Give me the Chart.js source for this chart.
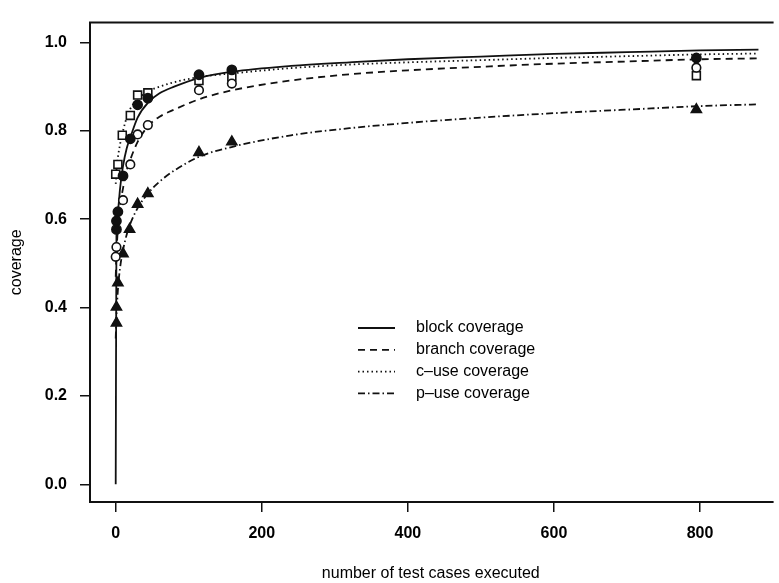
<!DOCTYPE html>
<html lang="en">
<head>
<meta charset="UTF-8">
<title>Coverage vs number of test cases</title>
<script src="https://cdn.jsdelivr.net/npm/chart.js"></script>
<style>
  html, body { margin: 0; padding: 0; background: #fff; }
</style>
</head>
<body>
<canvas id="chart" width="779" height="583"></canvas>
<script>
// observed coverage values (markers)
const blockX = [1, 1, 3, 10, 20, 30, 44, 114, 159, 795];
const blockY = [0.577, 0.596, 0.617, 0.698, 0.782, 0.859, 0.874, 0.927, 0.938, 0.965];
const branchX = [0, 1, 10, 20, 30, 44, 114, 159, 795];
const branchY = [0.515, 0.537, 0.643, 0.724, 0.792, 0.813, 0.892, 0.907, 0.943];
const cuseX = [0, 3, 9, 20, 30, 44, 114, 159, 795];
const cuseY = [0.702, 0.724, 0.79, 0.835, 0.881, 0.886, 0.914, 0.922, 0.925];
const puseX = [1, 1, 3, 10, 19, 30, 44, 114, 159, 795];
const puseY = [0.365, 0.401, 0.456, 0.522, 0.577, 0.634, 0.658, 0.751, 0.775, 0.848];

// fitted curves
const fitX = [0, 1, 3, 6, 10, 15, 20, 30, 45, 60, 80, 115, 160, 240, 320, 400, 500, 600, 700, 800, 880];
const blockFit = [0, 0.56, 0.62, 0.67, 0.72, 0.76, 0.785, 0.83, 0.865, 0.885, 0.9, 0.92, 0.934, 0.947, 0.955, 0.962, 0.968, 0.974, 0.978, 0.982, 0.984];
const branchFit = [0.47, 0.52, 0.58, 0.63, 0.67, 0.71, 0.735, 0.775, 0.812, 0.832, 0.848, 0.872, 0.892, 0.914, 0.928, 0.937, 0.945, 0.952, 0.957, 0.962, 0.964];
const cuseFit = [0.68, 0.71, 0.74, 0.77, 0.8, 0.83, 0.85, 0.872, 0.89, 0.9, 0.91, 0.922, 0.93, 0.942, 0.95, 0.955, 0.96, 0.965, 0.969, 0.973, 0.975];
const puseFit = [0.33, 0.38, 0.44, 0.49, 0.53, 0.565, 0.59, 0.625, 0.66, 0.685, 0.71, 0.742, 0.764, 0.79, 0.806, 0.818, 0.83, 0.84, 0.848, 0.856, 0.86];

const xTicks = [0, 200, 400, 600, 800];
const yTicks = [0, 0.2, 0.4, 0.6, 0.8, 1.0];
const legendLabels = ['block coverage', 'branch coverage', 'c\u2013use coverage', 'p\u2013use coverage'];

const ink = '#111';
const family = '"Liberation Sans", Arial, sans-serif';
const pts = (xs, ys) => xs.map((x, i) => ({ x: x, y: ys[i] }));

function curve(label, ys, dash) {
    return {
        type: 'line', label: label, data: pts(fitX, ys),
        borderColor: ink, borderWidth: 1.8, borderDash: dash,
        pointRadius: 0, fill: false, cubicInterpolationMode: 'monotone', order: 2
    };
}
function markers(xs, ys, style, filled, r) {
    return {
        type: 'scatter', data: pts(xs, ys),
        pointStyle: style, pointRadius: r,
        backgroundColor: filled ? ink : '#fff', borderColor: ink, pointBorderWidth: 1.6,
        order: 1
    };
}

// box round the plot (right side runs off the picture) and the legend
const boxLegend = {
    id: 'boxLegend',
    afterDraw(chart) {
        const { ctx, chartArea: a } = chart;
        const ds = chart.data.datasets.filter(d => d.type === 'line');
        ctx.save();
        ctx.strokeStyle = ink;
        ctx.lineWidth = 2;
        ctx.beginPath();
        ctx.moveTo(a.right + 2, a.top);
        ctx.lineTo(a.left, a.top);
        ctx.lineTo(a.left, a.bottom);
        ctx.lineTo(a.right + 2, a.bottom);
        ctx.stroke();

        ctx.font = '16px ' + family;
        ctx.fillStyle = '#000';
        ctx.textBaseline = 'middle';
        ds.forEach((d, i) => {
            const y = 328 + i * 21.8;
            ctx.lineWidth = 1.8;
            ctx.setLineDash(d.borderDash);
            ctx.beginPath();
            ctx.moveTo(358, y);
            ctx.lineTo(395, y);
            ctx.stroke();
            ctx.setLineDash([]);
            ctx.fillText(d.label, 416, y);
        });
        ctx.restore();
    }
};

new Chart(document.getElementById('chart'), {
    data: {
        datasets: [
            markers(blockX, blockY, 'circle', true, 4.6),
            markers(branchX, branchY, 'circle', false, 4.3),
            markers(cuseX, cuseY, 'rect', false, 5.6),
            markers(puseX, puseY, 'triangle', true, 5.8),
            curve(legendLabels[0], blockFit, []),
            curve(legendLabels[1], branchFit, [7, 5]),
            curve(legendLabels[2], cuseFit, [1.5, 3]),
            curve(legendLabels[3], puseFit, [7, 3, 1.5, 3])
        ]
    },
    options: {
        responsive: false,
        animation: false,
        events: [],
        layout: { padding: { top: 8, left: 0, right: 0, bottom: 0 } },
        plugins: { legend: { display: false }, tooltip: { enabled: false } },
        scales: {
            x: {
                type: 'linear', min: -35.2, max: 898,
                afterBuildTicks: s => { s.ticks = xTicks.map(v => ({ value: v })); },
                afterFit: s => { s.height = 81; },
                grid: { drawOnChartArea: false, color: ink, lineWidth: 1.5, tickLength: 10 },
                border: { display: false },
                ticks: { color: '#000', padding: 12, font: { family: family, size: 16, weight: 'bold' } },
                title: { display: true, text: 'number of test cases executed', color: '#000', padding: { top: 0, bottom: 0 },
                    font: { family: family, size: 16 } }
            },
            y: {
                type: 'linear', min: -0.04, max: 1.045,
                afterBuildTicks: s => { s.ticks = yTicks.map(v => ({ value: v })); },
                afterFit: s => { s.width = 90; },
                grid: { drawOnChartArea: false, color: ink, lineWidth: 1.5, tickLength: 10 },
                border: { display: false },
                ticks: { color: '#000', padding: 13, callback: v => v.toFixed(1),
                    font: { family: family, size: 16, weight: 'bold' } },
                title: { display: true, text: 'coverage', color: '#000', padding: { top: 7, bottom: 0 },
                    font: { family: family, size: 16 } }
            }
        }
    },
    plugins: [boxLegend]
});
</script>
</body>
</html>
